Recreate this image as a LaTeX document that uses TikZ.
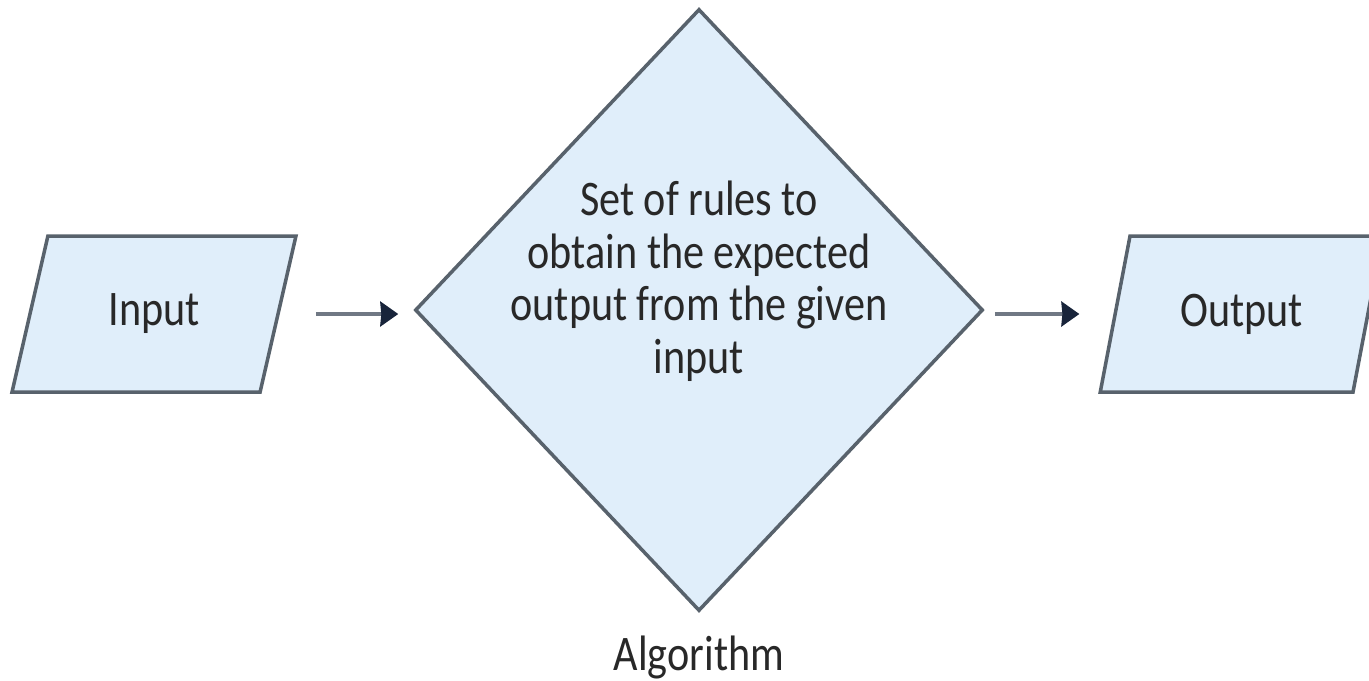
\documentclass[tikz,border=0pt]{standalone}
\usepackage{fontspec}
\setmainfont{Carlito}
\usetikzlibrary{shapes.geometric, arrows.meta, positioning}
\definecolor{shapeFill}{RGB}{224, 238, 250}
\definecolor{shapeLine}{RGB}{88, 98, 108}
\definecolor{arrowNavy}{RGB}{24, 36, 58}
\definecolor{arrowGray}{RGB}{112, 120, 132}
\definecolor{textGray}{RGB}{40, 40, 40}
\newcommand{\stretchtext}[1]{\scalebox{1}[1.18]{#1}}

\begin{document}
\begin{tikzpicture}[
        every node/.style={text=textGray, font=\fontsize{12}{12.7}\selectfont},
        iobox/.style={trapezium, trapezium left angle=73, trapezium right angle=107,
            trapezium stretches=true, draw=shapeLine, fill=shapeFill, line width=1pt,
            minimum width=2.84cm, minimum height=1.56cm},
        rulebox/.style={diamond, draw=shapeLine, fill=shapeFill, line width=1pt,
            minimum width=5.68cm, minimum height=6.02cm, inner sep=0pt},
        flow/.style={-{Stealth[length=1.8mm, width=2.5mm, inset=0.3pt, color=arrowNavy]},
            line width=0.9pt, draw=arrowGray}
    ]
        \useasboundingbox (0,0) rectangle (13.69,6.80);

        \node[iobox] (input) at (1.54,3.66) {\stretchtext{Input}};
        \node[rulebox] (algo) at (6.99,3.70) {};
        \node[iobox] (output) at (12.415,3.66) {\stretchtext{Output}};

        % text of the diamond sits a little above its centre
        \node[inner sep=0pt] (algotext) at ([yshift=0.26cm]algo.center)
            {\stretchtext{\begin{tabular}{@{}c@{}}Set of rules to\\obtain the expected\\output from the given\\input\end{tabular}}};
        \node[below=0.22cm of algo.south, inner sep=0pt] (algoname) {\stretchtext{Algorithm}};

        \draw[flow, shorten <=0.36cm, shorten >=0.15cm] (input.east) -- (input.east -| algo.west);
        \draw[flow, shorten <=0.1cm, shorten >=0.34cm] (output.west -| algo.east) -- (output.west);
      \end{tikzpicture}
\end{document}
